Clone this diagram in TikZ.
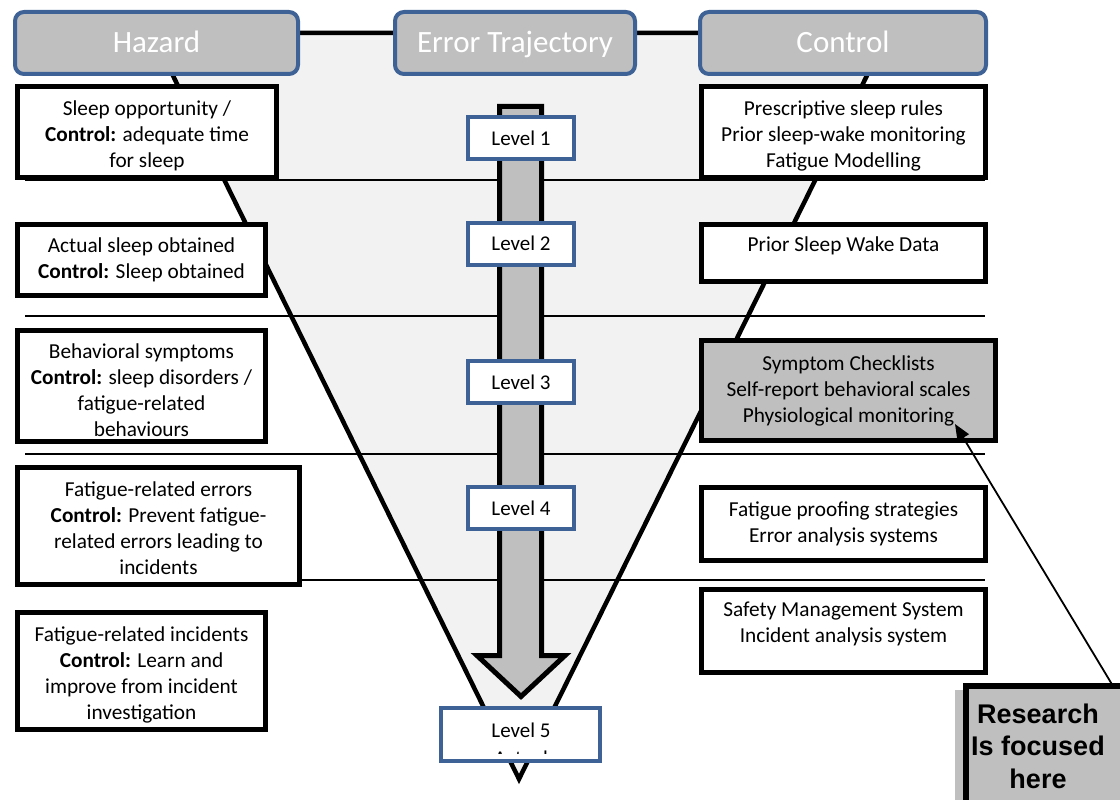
\documentclass[tikz,border=0pt]{standalone}
\usepackage{fontspec}
\setmainfont{Carlito}
\newfontfamily\notefont{Liberation Sans}
\usetikzlibrary{arrows.meta}
\definecolor{hdrblue}{RGB}{62,98,150}
\definecolor{hdrgray}{RGB}{191,191,191}
\definecolor{funnel}{RGB}{242,242,242}
% strut on a first line that lowers a centred text block
\newcommand\topgap[1]{\rule{0pt}{#1}}

\begin{document}
\begin{tikzpicture}[x=1pt,y=-1pt,
  header/.style={draw=hdrblue, line width=4pt, fill=hdrgray, rounded corners=9pt,
    text=white, font=\fontsize{31}{37}\selectfont, inner sep=0pt, minimum height=62pt,
    text height=20pt, text depth=0pt},
  infobox/.style={draw=black, line width=5pt, fill=white, align=center,
    font=\fontsize{21.3}{26}\selectfont, inner sep=0pt},
  levelbox/.style={draw=hdrblue, line width=4pt, fill=white,
    font=\fontsize{21}{26}\selectfont, inner sep=0pt, minimum width=106pt, minimum height=42pt},
  divider/.style={line width=1.5pt},
  bigarrow/.style={draw=black, line width=5pt, fill=hdrgray, line join=miter},
]
\useasboundingbox (0,0) rectangle (1120,800);
\clip (0,0) rectangle (1120,800);
\fill[white] (0,0) rectangle (1120,800);

% funnel of the error trajectory
\coordinate (ftl) at (152,33);
\coordinate (ftr) at (888,33);
\coordinate (fap) at (519,779);
\draw[line width=4.5pt, fill=funnel, line join=miter] (ftl) -- (ftr) -- (fap) -- cycle;

% level dividers
\foreach \yy/\nm in {180/a,316/b,454/c,580/d}{
  \coordinate (dl\nm) at (25,\yy);
  \coordinate (dr\nm) at (985,\yy);
  \draw[divider] (dl\nm) -- (dr\nm);
}

% downward trajectory arrow
\draw[bigarrow] (499.5,106.5) -- (541.5,106.5) -- (541.5,655.5) -- (565,655.5)
  -- (521,696.5) -- (477,655.5) -- (499.5,655.5) -- cycle;

% level markers
\node[levelbox] (lv1) at (521,138) {Level 1};
\node[levelbox] (lv2) at (521,243.5) {Level 2};
\node[levelbox] (lv3) at (521,382) {Level 3};
\node[levelbox] (lv4) at (521,508) {Level 4};
\node[levelbox, minimum width=159pt, minimum height=53pt] (lv5) at (520.5,734.5) {};
\begin{scope}
  \clip (441,708) rectangle (600,753);
  \node[font=\fontsize{21}{26}\selectfont, inner sep=0pt, anchor=base] (lv5a) at (521,737) {Level 5};
  \node[font=\fontsize{21}{26}\selectfont, inner sep=0pt, anchor=base] (lv5b) at (521,765) {Actual};
\end{scope}

% hazard column
\node[infobox, minimum width=259pt, minimum height=91pt] (h1) at (147,132)
  {\topgap{22pt}Sleep opportunity /\\\textbf{Control:} adequate time\\for sleep};
\node[infobox, minimum width=248pt, minimum height=71pt] (h2) at (141.5,260)
  {Actual sleep obtained\\\textbf{Control:} Sleep obtained};
\node[infobox, minimum width=248pt, minimum height=111pt] (h3) at (141.5,386)
  {\topgap{23pt}Behavioral symptoms\\\textbf{Control:} sleep disorders /\\fatigue-related\\behaviours};
\node[infobox, minimum width=282pt, minimum height=117pt] (h4) at (158.5,526)
  {\topgap{20pt}Fatigue-related errors\\\textbf{Control:} Prevent fatigue-\\related errors leading to\\incidents};
\node[infobox, minimum width=248pt, minimum height=117pt] (h5) at (141.5,671)
  {\topgap{22pt}Fatigue-related incidents\\\textbf{Control:} Learn and\\improve from incident\\investigation};

% control column
\node[infobox, minimum width=284pt, minimum height=91pt] (c1) at (843.5,132)
  {\topgap{22pt}Prescriptive sleep rules\\Prior sleep-wake monitoring\\Fatigue Modelling};
\node[infobox, minimum width=284pt, minimum height=57pt] (c2) at (843.5,253)
  {\topgap{22pt}Prior Sleep Wake Data\\\mbox{}};
\node[infobox, fill=hdrgray, minimum width=294pt, minimum height=100pt] (c3) at (848.5,390.5)
  {Symptom Checklists\\Self-report behavioral scales\\Physiological monitoring};
\node[infobox, minimum width=284pt, minimum height=73pt] (c4) at (843.5,524)
  {Fatigue proofing strategies\\Error analysis systems};
\node[infobox, minimum width=284pt, minimum height=83pt] (c5) at (843.5,631)
  {\topgap{22pt}Safety Management System\\Incident analysis system\\\mbox{}};

% column headers
\node[header, minimum width=283pt] (hz) at (156.5,43) {Hazard};
\node[header, minimum width=240pt] (et) at (515,43) {Error Trajectory};
\node[header, minimum width=286pt] (ct) at (843,43) {Control};

% research note: shadow, grey card running off the page, heavy top and left rules
\fill[hdrgray] (955,690) rectangle (1120,800);
\node[fill=hdrgray, minimum width=154pt, minimum height=114pt,
  anchor=north west, inner sep=0pt] (note) at (966,686) {};
\draw[line width=6pt] (note.south west) -- (note.north west) -- (note.north east);
\node[font=\notefont\bfseries\fontsize{27}{32.5}\selectfont, align=center, inner sep=0pt]
  (notetext) at (1038,746) {Research\\Is focused\\here};
\coordinate (notetop) at (1113,686);
\coordinate (monitor) at (955,424);
\draw[line width=1.8pt, -{Triangle[length=16pt,width=13pt]}] (notetop) -- (monitor);
\end{tikzpicture}
\end{document}
